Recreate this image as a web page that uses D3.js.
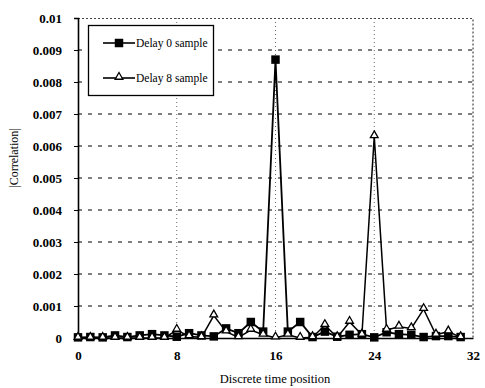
<!DOCTYPE html>
<html>
<head>
<meta charset="utf-8">
<script src="https://cdn.jsdelivr.net/npm/d3@7"></script>
<style>
  body { margin: 0; background: #fff; }
  svg text { font-family: "Liberation Serif", "Times New Roman", "DejaVu Serif", serif !important; fill: #000; }
</style>
</head>
<body>
<div id="chart"></div>
<script>
/// Chart data ///
var positions = d3.range(0, 32);
var delay0 = [0.00002, 0.00003, 0.00002, 0.00008, 0.00003, 0.00008, 0.00012, 0.00008,
              0.00004, 0.00015, 0.00008, 0.00005, 0.0003, 0.00015, 0.0005, 0.0002,
              0.0087, 0.0002, 0.0005, 0.00003, 0.0002, 0.00004, 0.0001, 0.00012,
              0.00002, 0.00018, 0.00012, 0.0001, 0.00003, 0.00006, 0.00006, 0.00003];
var delay8 = [0, 0, 0, 0, 0, 0, 0, 0,
              0.00025, 0.00005, 0.00002, 0.0007, 0.0002, 0.00002, 0.00025, 0.0001,
              0.00001, 0.0001, 0.0, 0.00002, 0.0004, 0.00002, 0.0005, 0.0001,
              0.0063, 0.00025, 0.00035, 0.0003, 0.0009, 0.0001, 0.0002, 0.00002];
var seriesNames = ["Delay 0 sample", "Delay 8 sample"];
var yTicks = [0, 0.001, 0.002, 0.003, 0.004, 0.005, 0.006, 0.007, 0.008, 0.009, 0.01];
var yTickLabels = ["0", "0.001", "0.002", "0.003", "0.004", "0.005", "0.006", "0.007", "0.008", "0.009", "0.01"];
var xTicks = [0, 8, 16, 24, 32];

/// SVG area ///
var svgWidth = 485;
var svgHeight = 388;
var margin = { top: 18, right: 12, bottom: 50, left: 78 };
var width = svgWidth - margin.left - margin.right;
var height = svgHeight - margin.top - margin.bottom;
var serif = "'Liberation Serif', 'Times New Roman', serif";

var svg = d3.select("#chart")
    .append("svg")
    .attr("width", svgWidth)
    .attr("height", svgHeight);

var g = svg.append("g")
    .attr("transform", `translate(${margin.left}, ${margin.top})`);

/// Scales ///
var x_scale = d3.scaleLinear().domain([0, 32]).range([0, width]);
var y_scale = d3.scaleLinear().domain([0, 0.01]).range([height, 0]);

/// Grid: dashed horizontals, dotted verticals ///
g.append("g").selectAll("line")
    .data(yTicks.slice(1, -1))
    .enter().append("line")
    .attr("x1", 0).attr("x2", width)
    .attr("y1", d => y_scale(d)).attr("y2", d => y_scale(d))
    .attr("stroke", "#000").attr("stroke-width", 1.2)
    .attr("stroke-dasharray", "4,6");

g.append("g").selectAll("line")
    .data([8, 16, 24])
    .enter().append("line")
    .attr("x1", d => x_scale(d)).attr("x2", d => x_scale(d))
    .attr("y1", 0).attr("y2", height)
    .attr("stroke", "#666").attr("stroke-width", 1)
    .attr("stroke-dasharray", "1,3");

// top and right frame (dotted)
g.append("path")
    .attr("d", `M0,0.5H${width}V${height}`)
    .attr("fill", "none")
    .attr("stroke", "#444").attr("stroke-width", 1.2)
    .attr("stroke-dasharray", "2,2");

/// Axes ///
var left_axis = d3.axisLeft(y_scale)
    .tickValues(yTicks)
    .tickFormat((d, i) => yTickLabels[i])
    .tickSize(4)
    .tickPadding(12);

var yAxisG = g.append("g").call(left_axis).attr("font-family", serif);
yAxisG.select(".domain").attr("stroke-width", 1.6);
yAxisG.selectAll("text").attr("font-size", 13).attr("font-weight", "bold");

var lower_axis = d3.axisBottom(x_scale)
    .tickValues(xTicks)
    .tickFormat(d3.format("d"))
    .tickSize(0)
    .tickPadding(13);

var xAxisG = g.append("g").attr("transform", `translate(0, ${height})`).call(lower_axis).attr("font-family", serif);
xAxisG.select(".domain").attr("stroke-width", 1.6);
xAxisG.selectAll("text").attr("font-size", 13).attr("font-weight", "bold");

/// Axis titles ///
svg.append("text")
    .attr("transform", `translate(18, 158) rotate(-90)`)
    .attr("text-anchor", "middle")
    .attr("font-family", serif)
    .attr("font-size", 12)
    .text("|Correlation|");

svg.append("text")
    .attr("x", 275).attr("y", 383)
    .attr("text-anchor", "middle")
    .attr("font-family", serif)
    .attr("font-size", 12.5)
    .text("Discrete time position");

/// Lines ///
var line = d3.line()
    .x((d, i) => x_scale(positions[i]))
    .y(d => y_scale(d));

g.append("path").datum(delay0)
    .attr("d", line).attr("fill", "none")
    .attr("stroke", "#000").attr("stroke-width", 1.8);

g.append("path").datum(delay8)
    .attr("d", line).attr("fill", "none")
    .attr("stroke", "#000").attr("stroke-width", 1.5);

/// Markers ///
var square = d3.symbol().type(d3.symbolSquare).size(72);
var triangle = d3.symbol().type(d3.symbolTriangle).size(26);

g.append("g").selectAll("path")
    .data(delay0).enter().append("path")
    .attr("d", square)
    .attr("transform", (d, i) => `translate(${x_scale(positions[i])}, ${y_scale(d)})`)
    .attr("fill", "#000");

g.append("g").selectAll("path")
    .data(delay8).enter().append("path")
    .attr("d", triangle)
    .attr("transform", (d, i) => `translate(${x_scale(positions[i])}, ${y_scale(d) - 1})`)
    .attr("fill", "#fff").attr("stroke", "#000").attr("stroke-width", 1.3);

/// Legend ///
var legend = svg.append("g").attr("transform", "translate(88, 25)");
legend.append("rect")
    .attr("x", 0.5).attr("y", 0.5)
    .attr("width", 125).attr("height", 70)
    .attr("fill", "#fff").attr("stroke", "#000").attr("stroke-width", 1.3);

var legendRows = legend.selectAll(".row")
    .data(seriesNames).enter().append("g")
    .attr("transform", (d, i) => `translate(0, ${18 + i * 35})`);

legendRows.append("line")
    .attr("x1", 15).attr("x2", 47)
    .attr("stroke", "#000").attr("stroke-width", 1.6);

legendRows.append("path")
    .attr("d", (d, i) => i === 0 ? square() : triangle())
    .attr("transform", (d, i) => `translate(31, ${i === 0 ? 0 : -1})`)
    .attr("fill", (d, i) => i === 0 ? "#000" : "#fff")
    .attr("stroke", "#000").attr("stroke-width", (d, i) => i === 0 ? 0 : 1.3);

legendRows.append("text")
    .attr("x", 48).attr("y", 4)
    .attr("font-family", serif)
    .attr("font-size", 11.5)
    .text(d => d);
</script>
</body>
</html>
